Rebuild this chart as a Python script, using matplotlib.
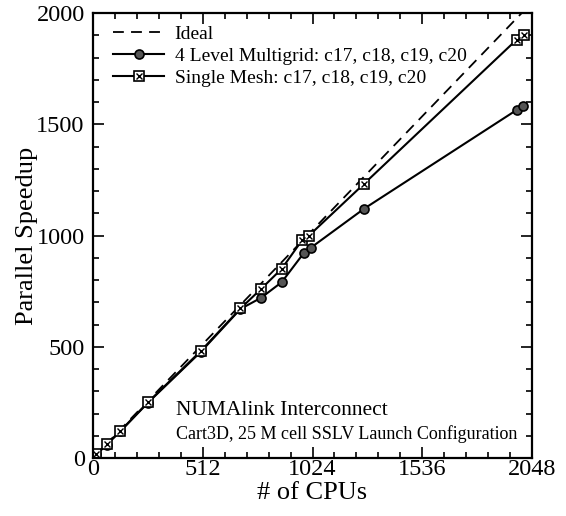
import matplotlib.pyplot as plt
from matplotlib.ticker import MultipleLocator

plt.rcParams['font.family'] = ['Liberation Serif', 'DejaVu Serif']

# data
ideal_cpus = [0, 2048]
ideal_speedup = [0, 2048]

mg_cpus = [16, 64, 128, 256, 504, 688, 784, 880, 984, 1016, 1264, 1976, 2008]
mg_speedup = [16, 60, 120, 248, 478, 670, 720, 790, 922, 945, 1120, 1564, 1584]

sm_cpus = [16, 64, 128, 256, 504, 688, 784, 880, 976, 1008, 1264, 1976, 2012]
sm_speedup = [16, 62, 122, 250, 482, 672, 760, 850, 980, 1000, 1232, 1880, 1900]

x_ticks = [0, 512, 1024, 1536, 2048]
y_ticks = [0, 500, 1000, 1500, 2000]

fig = plt.figure(figsize=(5.66, 5.16), dpi=100)
ax = fig.add_axes([0.1643, 0.1124, 0.7757, 0.8624])

ax.plot(ideal_cpus, ideal_speedup, ls=(0, (6, 4)), color='black', lw=1.3, label='Ideal')
mg_line, = ax.plot(mg_cpus, mg_speedup, color='black', lw=1.5, marker='o', ms=6.5,
                   mfc='#555555', mec='black', mew=1.2)
sm_line, = ax.plot(sm_cpus, sm_speedup, color='black', lw=1.5, marker='s', ms=6.5,
                   mfc='white', mec='black', mew=1.2)
sm_x, = ax.plot(sm_cpus, sm_speedup, ls='none', marker='x', ms=5, mec='black', mew=1.0)

ax.legend([ax.lines[0], mg_line, (sm_line, sm_x)],
          ['Ideal', '4 Level Multigrid: c17, c18, c19, c20', 'Single Mesh: c17, c18, c19, c20'],
          loc='upper left', bbox_to_anchor=(0.02, 0.998), frameon=False, fontsize=14,
          handlelength=2.6, handletextpad=0.55, labelspacing=0.22, borderaxespad=0.2)

ax.set_xlim(0, 2048)
ax.set_ylim(0, 2000)
ax.set_xticks(x_ticks)
ax.set_yticks(y_ticks)
ax.xaxis.set_minor_locator(MultipleLocator(512 / 5))
ax.yaxis.set_minor_locator(MultipleLocator(100))
ax.tick_params(which='both', direction='in', top=True, right=True, labelsize=17.5, width=1.2)
ax.tick_params(which='major', length=8)
ax.tick_params(which='minor', length=4)
ax.tick_params(axis='x', pad=1)
ax.tick_params(axis='y', pad=6)
for s in ax.spines.values():
    s.set_linewidth(1.6)

ax.set_xlabel('# of CPUs', fontsize=19, labelpad=1)
ax.set_ylabel('Parallel Speedup', fontsize=19, labelpad=-1)

ax.text(0.19, 0.106, 'NUMAlink Interconnect', transform=ax.transAxes, fontsize=15.5,
        va='center', ha='left')
ax.text(0.19, 0.054, 'Cart3D, 25 M cell SSLV Launch Configuration', transform=ax.transAxes,
        fontsize=13, va='center', ha='left')

fig.savefig('out.png', dpi=100)
